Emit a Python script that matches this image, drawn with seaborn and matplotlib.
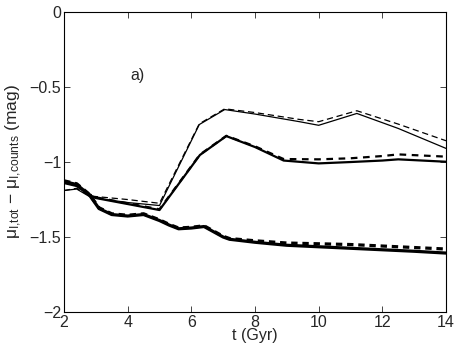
import numpy as np
import pandas as pd
import matplotlib
matplotlib.use("Agg")
import matplotlib.pyplot as plt
import seaborn as sns

# --- data ---
t_thick = [2, 2.4, 2.8, 3.1, 3.5, 4, 4.5, 5, 5.3, 5.6, 6, 6.4, 7, 7.2, 8, 9, 10, 11, 12, 13, 14]
thick_solid = [-1.13, -1.15, -1.22, -1.31, -1.35, -1.36, -1.35, -1.39, -1.42, -1.445, -1.44, -1.43,
               -1.50, -1.515, -1.535, -1.555, -1.565, -1.575, -1.585, -1.595, -1.607]
thick_dash = [-1.125, -1.145, -1.215, -1.305, -1.345, -1.355, -1.345, -1.385, -1.415, -1.44, -1.435, -1.425,
              -1.495, -1.51, -1.525, -1.54, -1.545, -1.55, -1.56, -1.57, -1.58]

t_med = [2, 2.4, 2.8, 3, 3.5, 4, 4.5, 5, 6.27, 7.1, 8, 8.9, 10, 11, 12, 12.5, 14]
med_solid = [-1.14, -1.16, -1.22, -1.24, -1.26, -1.28, -1.30, -1.32, -0.953, -0.827, -0.90, -0.99,
             -1.009, -1.0, -0.99, -0.982, -0.998]
med_dash = [-1.135, -1.155, -1.215, -1.235, -1.255, -1.275, -1.295, -1.315, -0.95, -0.825, -0.895, -0.98,
            -0.982, -0.975, -0.96, -0.949, -0.964]

t_thin = [2, 2.4, 2.8, 3, 4, 5, 6.25, 7.05, 8, 9.4, 10, 11.2, 12.5, 14]
thin_solid = [-1.19, -1.18, -1.23, -1.24, -1.27, -1.29, -0.75, -0.65, -0.68, -0.731, -0.755, -0.676,
              -0.776, -0.909]
thin_dash = [-1.19, -1.175, -1.225, -1.23, -1.25, -1.275, -0.745, -0.645, -0.67, -0.716, -0.731, -0.658,
             -0.747, -0.858]

xticks = [2, 4, 6, 8, 10, 12, 14]
yticks = [0, -0.5, -1, -1.5, -2]
ytick_labels = ["0", "\u22120.5", "\u22121", "\u22121.5", "\u22122"]

sns.set_style("ticks")
plt.rcParams["font.family"] = ["Liberation Sans", "DejaVu Sans"]
plt.rcParams["mathtext.fontset"] = "custom"
plt.rcParams["mathtext.rm"] = "Liberation Sans"
plt.rcParams["mathtext.it"] = "Liberation Sans"

fig = plt.figure(figsize=(4.58, 3.49), dpi=100)
ax = fig.add_axes([0.1397, 0.106, 0.8341, 0.8594])

series = [
    (t_thin, thin_solid, 0.9, "-"),
    (t_thin, thin_dash, 0.9, (0, (5, 3))),
    (t_med, med_solid, 1.6, "-"),
    (t_med, med_dash, 1.6, (0, (3, 2.5))),
    (t_thick, thick_solid, 2.3, "-"),
    (t_thick, thick_dash, 2.3, (0, (2, 1.5))),
]
for tx, vals, lw, ls in series:
    df = pd.DataFrame({"t": tx, "v": vals})
    sns.lineplot(data=df, x="t", y="v", ax=ax, color="black", linewidth=lw, linestyle=ls)

ax.set_xlim(2, 14)
ax.set_ylim(-2, 0)
ax.set_xticks(xticks)
ax.set_xticklabels([str(x) for x in xticks])
ax.set_yticks(yticks)
ax.set_yticklabels(ytick_labels)
ax.tick_params(direction="in", top=True, right=True, labelsize=11.5, length=4, width=0.6, pad=2)
for s in ax.spines.values():
    s.set_linewidth(0.8)
    s.set_color("black")

ax.set_xlabel("t (Gyr)", fontsize=11.5, labelpad=-1)
ax.set_ylabel(r"$\mu_{\mathrm{I{,}tot}}$ $-$ $\mu_{\mathrm{I{,}counts}}$ (mag)", fontsize=12.5, labelpad=4)
ax.text(4.3, -0.42, "a)", fontsize=11.5, ha="center", va="center")

fig.savefig("out.png", dpi=100)
